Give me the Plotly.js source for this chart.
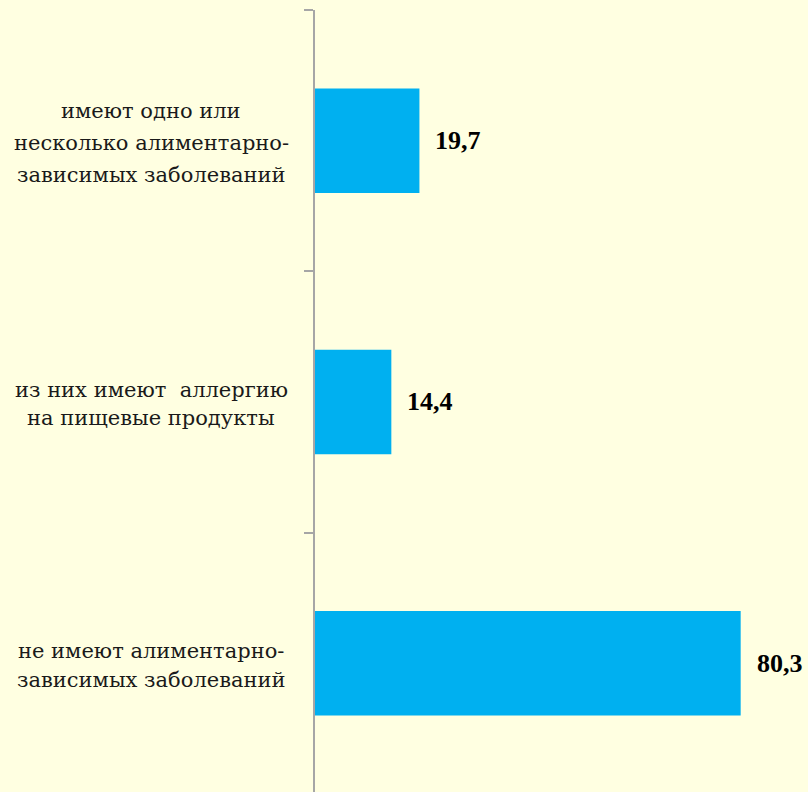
<!DOCTYPE html>
<html>
<head>
<meta charset="utf-8">
<script src="https://cdn.plot.ly/plotly-3.0.1.min.js"></script>
<style>html,body{margin:0;padding:0;background:#FFFFE1;}</style>
</head>
<body>
<div id="chart" style="width:808px;height:792px;"></div>
<script>
const categories = [
  "имеют одно или<br>несколько алиментарно-<br>зависимых заболеваний",
  "из них имеют  аллергию<br>на пищевые продукты",
  "не имеют алиментарно-<br>зависимых заболеваний"
];
const values = [19.7, 14.4, 80.3];
const valueLabels = ["19,7", "14,4", "80,3"];

const serif = '"Liberation Serif", "Times New Roman", serif';
const labelSerif = '"DejaVu Serif", serif';
const lineSpacing = [32, 28, 29];
const annotations = [];
categories.forEach((c, k) => {
  const lines = c.split('<br>');
  const n = lines.length;
  lines.forEach((ln, i) => {
    annotations.push({
      x: 0, y: k, xref: 'x', yref: 'y',
      text: ln, showarrow: false,
      xanchor: 'center', yanchor: 'middle',
      xshift: -164, yshift: ((n - 1) / 2 - i) * lineSpacing[k] - 2,
      font: {family: labelSerif, size: 21, color: '#1a1a1a'}
    });
  });
  annotations.push({
    x: values[k], y: k, xref: 'x', yref: 'y',
    text: '<b>' + valueLabels[k] + '</b>', showarrow: false,
    xanchor: 'left', yanchor: 'middle', xshift: 14,
    font: {family: serif, size: 26, color: '#000000'}
  });
});

const trace = {
  type: 'bar', orientation: 'h',
  x: values, y: [0, 1, 2],
  width: 0.4,
  marker: {color: '#00B0F0', line: {width: 0}},
  hoverinfo: 'skip'
};

const layout = {
  width: 808, height: 792,
  margin: {l: 315, r: 0, t: 10, b: 0, pad: 0},
  paper_bgcolor: '#FFFFE1', plot_bgcolor: '#FFFFE1',
  showlegend: false,
  font: {family: serif},
  xaxis: {range: [0, 93], showgrid: false, zeroline: false, showline: false, showticklabels: false, ticks: ''},
  yaxis: {
    type: 'linear', range: [2.493, -0.5],
    showgrid: false, zeroline: false, showline: true,
    linecolor: '#A6A6A6', linewidth: 2,
    tickmode: 'array', tickvals: [-0.5, 0.5, 1.5, 2.5], showticklabels: false,
    ticks: 'outside', ticklen: 9, tickwidth: 2, tickcolor: '#A6A6A6'
  },
  annotations: annotations
};

Plotly.newPlot('chart', [trace], layout, {displayModeBar: false, staticPlot: true});
</script>
</body>
</html>
